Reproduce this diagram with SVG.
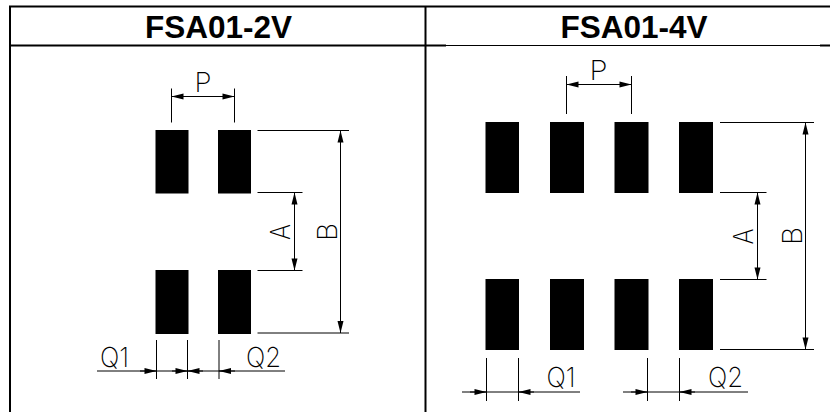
<svg xmlns="http://www.w3.org/2000/svg" width="830" height="412" viewBox="0 0 830 412">
<style>
.title{font-family:"Liberation Sans",Arial,sans-serif;font-weight:700;font-size:31.5px;fill:#000;text-anchor:middle}
.dim{font-family:"Inter","Liberation Sans",sans-serif;font-weight:200;font-size:27.5px;fill:#000}
.pad{fill:#000}
.rule{stroke:#000;fill:none}
.c line{stroke:#000;stroke-width:1;fill:none}
.a{marker-end:url(#arrow)}
.b{marker-start:url(#arrow);marker-end:url(#arrow)}
</style>
<defs>
<marker id="arrow" markerUnits="userSpaceOnUse" markerWidth="13" markerHeight="8" refX="12.5" refY="4" orient="auto-start-reverse"><path d="M0.5,1 L12.5,4 L0.5,7 Z" fill="#000"/></marker>
</defs>
<rect width="830" height="412" fill="#fff"/>
<g id="table">
<path class="rule" stroke-width="2" d="M9,6.5H830M10,6V412M9,45.5H446M820,45.5H830M425.5,6V412"/>
<path class="rule" stroke-width="1" d="M446,45.5H820"/>
<text class="title" x="218.5" y="38" textLength="147" lengthAdjust="spacingAndGlyphs">FSA01-2V</text>
<text class="title" x="634" y="38" textLength="147" lengthAdjust="spacingAndGlyphs">FSA01-4V</text>
</g>
<g id="fsa01-2v-pads">
<rect id="l-pad1" class="pad" x="155.5" y="130" width="33" height="63.5"/>
<rect id="l-pad2" class="pad" x="218" y="130" width="33" height="63.5"/>
<rect id="l-pad3" class="pad" x="155.5" y="270" width="33" height="64"/>
<rect id="l-pad4" class="pad" x="218" y="270" width="33" height="64"/>
</g>
<g id="fsa01-4v-pads">
<rect id="r-pad1" class="pad" x="485.5" y="122" width="33.5" height="71"/>
<rect id="r-pad2" class="pad" x="550" y="122" width="34" height="71"/>
<rect id="r-pad3" class="pad" x="614.5" y="122" width="34" height="71"/>
<rect id="r-pad4" class="pad" x="679" y="122" width="34" height="71"/>
<rect id="r-pad5" class="pad" x="485.5" y="279" width="33.5" height="71"/>
<rect id="r-pad6" class="pad" x="550" y="279" width="34" height="71"/>
<rect id="r-pad7" class="pad" x="614.5" y="279" width="34" height="71"/>
<rect id="r-pad8" class="pad" x="679" y="279" width="34" height="71"/>
</g>
<g id="connectors" class="c">
<line x1="171.5" y1="88.5" x2="171.5" y2="122.5"/>
<line x1="234.5" y1="88.5" x2="234.5" y2="122.5"/>
<line class="b" x1="171.5" y1="96.5" x2="234.5" y2="96.5"/>
<line x1="257.5" y1="130.5" x2="349" y2="130.5"/>
<line x1="257.5" y1="192.5" x2="302.5" y2="192.5"/>
<line x1="257.5" y1="270.5" x2="302.5" y2="270.5"/>
<line x1="257.5" y1="333" x2="349" y2="333"/>
<line class="b" x1="294.5" y1="192.5" x2="294.5" y2="270.5"/>
<line class="b" x1="340.5" y1="130.5" x2="340.5" y2="333"/>
<line x1="156.5" y1="340" x2="156.5" y2="379"/>
<line x1="187.5" y1="340" x2="187.5" y2="379"/>
<line x1="219" y1="340" x2="219" y2="379"/>
<line x1="97" y1="371" x2="285" y2="371"/>
<line class="a" x1="140" y1="371" x2="156.5" y2="371"/>
<line class="a" x1="172" y1="371" x2="187.5" y2="371"/>
<line class="a" x1="203" y1="371" x2="187.5" y2="371"/>
<line class="a" x1="235" y1="371" x2="219" y2="371"/>

<line x1="566.5" y1="76" x2="566.5" y2="114"/>
<line x1="631.5" y1="76" x2="631.5" y2="114"/>
<line class="b" x1="566.5" y1="84.5" x2="631.5" y2="84.5"/>
<line x1="720" y1="122.5" x2="814" y2="122.5"/>
<line x1="720" y1="192.5" x2="766.5" y2="192.5"/>
<line x1="720" y1="279.5" x2="766.5" y2="279.5"/>
<line x1="720" y1="349.5" x2="814" y2="349.5"/>
<line class="b" x1="757.5" y1="192.5" x2="757.5" y2="279.5"/>
<line class="b" x1="805.5" y1="122.5" x2="805.5" y2="349.5"/>
<line x1="486.5" y1="358" x2="486.5" y2="401"/>
<line x1="518.5" y1="358" x2="518.5" y2="401"/>
<line x1="647.5" y1="358" x2="647.5" y2="401"/>
<line x1="679.5" y1="358" x2="679.5" y2="401"/>
<line x1="462" y1="392" x2="580" y2="392"/>
<line x1="623" y1="392" x2="748" y2="392"/>
<line class="a" x1="470" y1="392" x2="486.5" y2="392"/>
<line class="a" x1="534" y1="392" x2="518.5" y2="392"/>
<line class="a" x1="631" y1="392" x2="647.5" y2="392"/>
<line class="a" x1="695" y1="392" x2="679.5" y2="392"/>
</g>
<g id="labels">
<text class="dim" x="194.5" y="92" textLength="17" lengthAdjust="spacingAndGlyphs">P</text>
<text class="dim" transform="translate(289.5 240) rotate(-90)" textLength="16" lengthAdjust="spacingAndGlyphs">A</text>
<text class="dim" transform="translate(336.5 241) rotate(-90)" textLength="18" lengthAdjust="spacingAndGlyphs">B</text>
<text class="dim" x="100" y="367" textLength="29" lengthAdjust="spacingAndGlyphs">Q1</text>
<text class="dim" x="246" y="367" textLength="35" lengthAdjust="spacingAndGlyphs">Q2</text>
<text class="dim" x="589.5" y="79.5" textLength="18" lengthAdjust="spacingAndGlyphs">P</text>
<text class="dim" transform="translate(753 244.5) rotate(-90)" textLength="16" lengthAdjust="spacingAndGlyphs">A</text>
<text class="dim" transform="translate(801.5 245) rotate(-90)" textLength="18" lengthAdjust="spacingAndGlyphs">B</text>
<text class="dim" x="546.5" y="387" textLength="29" lengthAdjust="spacingAndGlyphs">Q1</text>
<text class="dim" x="708" y="387" textLength="35" lengthAdjust="spacingAndGlyphs">Q2</text>
</g>
</svg>
